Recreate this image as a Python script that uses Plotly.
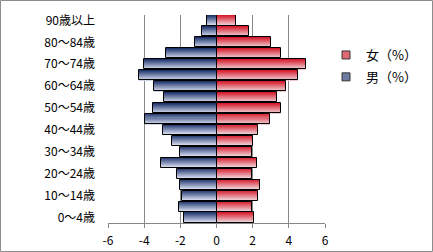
import plotly.graph_objects as go

categories = ["0～4歳", "5～9歳", "10～14歳", "15～19歳", "20～24歳", "25～29歳",
              "30～34歳", "35～39歳", "40～44歳", "45～49歳", "50～54歳", "55～59歳",
              "60～64歳", "65～69歳", "70～74歳", "75～79歳", "80～84歳", "85～89歳",
              "90歳以上"]
male = [-1.82, -2.08, -1.91, -2.02, -2.19, -3.07, -2.02, -2.46, -2.96, -3.98,
        -3.52, -2.91, -3.44, -4.30, -4.02, -2.80, -1.19, -0.80, -0.52]
female = [2.09, 1.94, 2.31, 2.42, 1.94, 2.26, 1.98, 2.04, 2.31, 2.98,
          3.59, 3.37, 3.87, 4.48, 4.93, 3.59, 3.04, 1.81, 1.07]
x_ticks = [-6, -4, -2, 0, 2, 4, 6]
x_ticktext = ["-6", "-4", "-2", "0", "2", "4", "6"]
y_tickvals = categories[::2]

W, H = 433, 252
ML, MR, MT, MB = 108, 108, 15, 29
BAR_W = 0.92
N_STRIPS = 10

def lerp(c1, c2, t):
    return "rgb(%d,%d,%d)" % tuple(round(a + (b - a) * t) for a, b in zip(c1, c2))

blue_top, blue_bot = (32, 52, 108), (205, 213, 233)
red_top, red_bot = (214, 28, 44), (238, 200, 206)

fig = go.Figure()
sw = BAR_W / N_STRIPS
for vals, ctop, cbot in [(male, blue_top, blue_bot), (female, red_top, red_bot)]:
    for i in range(N_STRIPS):
        t = i / (N_STRIPS - 1)
        fig.add_trace(go.Bar(
            y=categories, x=vals, orientation="h",
            width=sw * 1.02, offset=BAR_W / 2 - (i + 1) * sw,
            marker=dict(color=lerp(ctop, cbot, t), line=dict(width=0)),
            showlegend=False, hoverinfo="skip"))
    fig.add_trace(go.Bar(
        y=categories, x=vals, orientation="h",
        width=BAR_W, offset=-BAR_W / 2,
        marker=dict(color="rgba(0,0,0,0)", line=dict(color="black", width=1)),
        showlegend=False, hoverinfo="skip"))

# legend entries
fig.add_trace(go.Scatter(y=[None], x=[None], mode="markers", name="女（%）",
                         marker=dict(symbol="square", size=8,
                                     color=lerp(red_top, red_bot, 0.45),
                                     line=dict(color="#333", width=1)),
                         legendgroup="f"))
fig.add_trace(go.Scatter(y=[None], x=[None], mode="markers", name="男（%）",
                         marker=dict(symbol="square", size=8,
                                     color=lerp(blue_top, blue_bot, 0.45),
                                     line=dict(color="#333", width=1)),
                         legendgroup="m"))

pw = W - ML - MR
ph = H - MT - MB
fig.add_shape(type="rect", xref="paper", yref="paper",
              x0=(0.5 - ML) / pw, x1=(W - 0.5 - ML) / pw,
              y0=(MT + ph - (H - 0.5)) / ph, y1=(MT + ph - 0.5) / ph,
              line=dict(color="#8c8c8c", width=1), fillcolor="rgba(0,0,0,0)")

font = "Noto Sans CJK JP"
fig.update_layout(
    width=W, height=H, autosize=False,
    margin=dict(l=ML, r=MR, t=MT, b=MB, pad=0, autoexpand=False),
    paper_bgcolor="white", plot_bgcolor="white",
    barmode="overlay", bargap=0,
    font=dict(family=font, size=12, color="black"),
    showlegend=True,
    legend=dict(x=(326 - ML) / pw, y=(MT + ph - 40) / ph, xanchor="left", yanchor="top",
                font=dict(size=13, family=font), traceorder="grouped",
                tracegroupgap=2, bgcolor="rgba(0,0,0,0)", itemwidth=30),
    xaxis=dict(range=[-6, 6], tickvals=x_ticks, ticktext=x_ticktext,
               showgrid=True, gridcolor="#888888", gridwidth=1,
               zeroline=True, zerolinecolor="#888888", zerolinewidth=1,
               showline=True, linecolor="#888888", linewidth=1,
               ticks="outside", ticklen=4, tickcolor="#888888",
               ticklabelstandoff=3,
               tickfont=dict(size=12, family=font), fixedrange=True),
    yaxis=dict(type="category", categoryorder="array", categoryarray=categories,
               range=[-0.5, len(categories) - 0.5],
               tickvals=y_tickvals, showgrid=False, zeroline=False,
               showline=False, ticks="", ticklabelstandoff=12,
               tickfont=dict(size=12, family=font), fixedrange=True),
)

fig.write_html("out.html")
